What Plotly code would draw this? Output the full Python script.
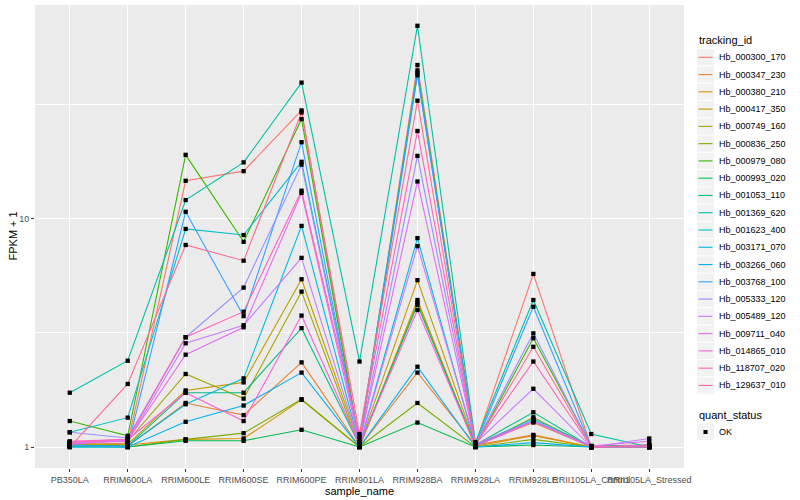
import plotly.graph_objects as go

samples = ["PB350LA", "RRIM600LA", "RRIM600LE", "RRIM600SE", "RRIM600PE", "RRIM901LA",
           "RRIM928BA", "RRIM928LA", "RRIM928LE", "RRII105LA_Control", "RRII105LA_Stressed"]

tracking_ids = ["Hb_000300_170", "Hb_000347_230", "Hb_000380_210", "Hb_000417_350",
                "Hb_000749_160", "Hb_000836_250", "Hb_000979_080", "Hb_000993_020",
                "Hb_001053_110", "Hb_001369_620", "Hb_001623_400", "Hb_003171_070",
                "Hb_003266_060", "Hb_003768_100", "Hb_005333_120", "Hb_005489_120",
                "Hb_009711_040", "Hb_014865_010", "Hb_118707_020", "Hb_129637_010"]

colors = ["#F8766D", "#EA8331", "#D89000", "#C09B00", "#A3A500", "#7CAE00", "#39B600",
          "#00BB4E", "#00BF7D", "#00C1A3", "#00BFC4", "#00BAE0", "#00B0F6", "#35A2FF",
          "#9590FF", "#C77CFF", "#E76BF3", "#FA62DB", "#FF62BC", "#FF6C91"]

# FPKM + 1 per sample, in the order of `samples`
Hb_000300_170 = [1.02, 1.04, 14.7, 16.2, 29.9, 1.04, 47.3, 1.03, 5.74, 1.00, 1.00]
Hb_000347_230 = [1.03, 1.01, 1.56, 1.38, 2.35, 1.00, 2.12, 1.02, 1.13, 1.00, 1.01]
Hb_000380_210 = [1.04, 1.02, 1.08, 1.09, 1.61, 1.00, 4.41, 1.01, 1.12, 1.00, 1.00]
Hb_000417_350 = [1.02, 1.03, 1.77, 1.92, 5.44, 1.02, 5.39, 1.02, 1.28, 1.00, 1.01]
Hb_000749_160 = [1.05, 1.06, 2.09, 1.63, 4.80, 1.00, 4.30, 1.00, 1.35, 1.00, 1.02]
Hb_000836_250 = [1.01, 1.00, 1.08, 1.15, 1.62, 1.00, 1.56, 1.00, 1.08, 1.00, 1.00]
Hb_000979_080 = [1.30, 1.12, 19.1, 7.94, 27.4, 1.03, 44.8, 1.01, 3.00, 1.01, 1.02]
Hb_000993_020 = [1.00, 1.00, 1.065, 1.065, 1.19, 1.00, 1.28, 1.00, 1.02, 1.00, 1.00]
Hb_001053_110 = [1.02, 1.01, 1.73, 1.73, 3.32, 1.02, 4.20, 1.02, 1.42, 1.00, 1.00]
Hb_001369_620 = [1.73, 2.39, 12.1, 17.7, 39.6, 2.37, 70.3, 1.05, 4.41, 1.14, 1.00]
Hb_001623_400 = [1.16, 1.345, 9.04, 8.50, 17.8, 1.08, 43.6, 1.02, 1.33, 1.01, 1.01]
Hb_003171_070 = [1.01, 1.01, 1.54, 2.00, 9.32, 1.02, 8.24, 1.01, 1.31, 1.00, 1.00]
Hb_003266_060 = [1.00, 1.00, 1.29, 1.52, 2.12, 1.00, 2.25, 1.00, 1.045, 1.00, 1.00]
Hb_003768_100 = [1.02, 1.00, 10.75, 3.75, 21.7, 1.03, 42.6, 1.02, 4.12, 1.00, 1.00]
Hb_005333_120 = [1.16, 1.095, 3.03, 5.00, 17.3, 1.05, 18.9, 1.03, 3.15, 1.00, 1.00]
Hb_005489_120 = [1.04, 1.06, 2.85, 3.42, 6.75, 1.02, 7.60, 1.04, 1.80, 1.00, 1.09]
Hb_009711_040 = [1.03, 1.07, 2.54, 3.35, 13.0, 1.04, 14.6, 1.03, 1.30, 1.01, 1.06]
Hb_014865_010 = [1.05, 1.08, 1.73, 1.30, 3.77, 1.02, 3.99, 1.01, 1.29, 1.00, 1.02]
Hb_118707_020 = [1.06, 1.08, 3.03, 3.92, 13.3, 1.11, 24.3, 1.03, 2.37, 1.00, 1.01]
Hb_129637_010 = [1.00, 1.89, 7.69, 6.56, 29.3, 1.14, 33.0, 1.02, 2.75, 1.00, 1.00]

series = [Hb_000300_170, Hb_000347_230, Hb_000380_210, Hb_000417_350, Hb_000749_160,
          Hb_000836_250, Hb_000979_080, Hb_000993_020, Hb_001053_110, Hb_001369_620,
          Hb_001623_400, Hb_003171_070, Hb_003266_060, Hb_003768_100, Hb_005333_120,
          Hb_005489_120, Hb_009711_040, Hb_014865_010, Hb_118707_020, Hb_129637_010]

quant_status = ["OK"]

FONT = "Liberation Sans, Arial, sans-serif"
W, H = 800, 500
ML, MR, MT, MB = 35, 116, 5, 32
PW, PH = W - ML - MR, H - MT - MB


def px(x):  # pixel -> paper x
    return (x - ML) / PW


def py(y):  # pixel -> paper y
    return (H - MB - y) / PH


fig = go.Figure()
for name, vals, col in zip(tracking_ids, series, colors):
    fig.add_trace(go.Scatter(x=samples, y=vals, mode="lines", name=name,
                             line=dict(color=col, width=1.1)))

all_x = [s for vals in series for s in samples]
all_y = [v for vals in series for v in vals]
fig.add_trace(go.Scatter(x=all_x, y=all_y, mode="markers", name=quant_status[0],
                         marker=dict(color="black", size=4.3, symbol="square")))

# --- ggplot-style legends drawn as shapes + text ---
shapes, annotations = [], []
LX, KEY, STEP = 697, 17, 17.27
annotations.append(dict(text="tracking_id", x=px(LX), y=py(40), xref="paper", yref="paper",
                        xanchor="left", yanchor="middle", showarrow=False,
                        font=dict(size=11, color="black")))
for i, (name, col) in enumerate(zip(tracking_ids, colors)):
    cy = 57.3 + STEP * i
    shapes.append(dict(type="rect", xref="paper", yref="paper",
                       x0=px(LX), x1=px(LX + KEY), y0=py(cy - KEY / 2 + 0.4), y1=py(cy + KEY / 2 - 0.4),
                       fillcolor="#F2F2F2", line=dict(width=0), layer="above"))
    shapes.append(dict(type="line", xref="paper", yref="paper",
                       x0=px(LX + 1.5), x1=px(LX + KEY - 1.5), y0=py(cy), y1=py(cy),
                       line=dict(color=col, width=1.1), layer="above"))
    annotations.append(dict(text=name, x=px(LX + 20), y=py(cy), xref="paper", yref="paper",
                            xanchor="left", yanchor="middle", showarrow=False,
                            font=dict(size=9, color="black")))

annotations.append(dict(text="quant_status", x=px(LX), y=py(415), xref="paper", yref="paper",
                        xanchor="left", yanchor="middle", showarrow=False,
                        font=dict(size=11, color="black")))
cy = 432
shapes.append(dict(type="rect", xref="paper", yref="paper",
                   x0=px(LX), x1=px(LX + KEY), y0=py(cy - KEY / 2 + 0.4), y1=py(cy + KEY / 2 - 0.4),
                   fillcolor="#F2F2F2", line=dict(width=0), layer="above"))
shapes.append(dict(type="rect", xref="paper", yref="paper",
                   x0=px(LX + KEY / 2 - 2), x1=px(LX + KEY / 2 + 2), y0=py(cy + 2), y1=py(cy - 2),
                   fillcolor="black", line=dict(width=0), layer="above"))
annotations.append(dict(text=quant_status[0], x=px(LX + 20), y=py(cy), xref="paper", yref="paper",
                        xanchor="left", yanchor="middle", showarrow=False,
                        font=dict(size=9, color="black")))

# y-axis title (placed like ggplot's)
annotations.append(dict(text="FPKM + 1", x=px(12), y=py((MT + H - MB) / 2), xref="paper",
                        yref="paper", xanchor="center", yanchor="middle", textangle=-90,
                        showarrow=False, font=dict(size=11, color="black")))

fig.update_layout(
    width=W, height=H,
    margin=dict(l=ML, r=MR, t=MT, b=MB),
    paper_bgcolor="white", plot_bgcolor="#EBEBEB",
    font=dict(family=FONT, color="#000000"),
    showlegend=False,
    shapes=shapes, annotations=annotations,
)

fig.update_xaxes(
    type="category", categoryorder="array", categoryarray=samples,
    range=[-0.6, len(samples) - 0.4],
    showgrid=True, gridcolor="white", gridwidth=1.4,
    zeroline=False, showline=False,
    ticks="outside", ticklen=3, tickcolor="#333333", tickwidth=1,
    tickfont=dict(size=9, color="#4D4D4D"), tickangle=0,
    title=dict(text="sample_name", font=dict(size=11, color="black"), standoff=0),
    automargin=False,
)

fig.update_yaxes(
    type="log", range=[-0.092, 1.938],
    tickvals=[1, 10], ticktext=["1", "10"],
    showgrid=True, gridcolor="white", gridwidth=1.4,
    minor=dict(tickvals=[10 ** 0.5, 10 ** 1.5], showgrid=True, gridcolor="white",
               gridwidth=0.7, ticks=""),
    zeroline=False, showline=False,
    ticks="outside", ticklen=3, tickcolor="#333333", tickwidth=1,
    tickfont=dict(size=9, color="#4D4D4D"),
    automargin=False,
)

fig.write_html("out.html", config={"displayModeBar": False},
               post_script="document.body.style.margin='0';document.body.style.padding='0';")
